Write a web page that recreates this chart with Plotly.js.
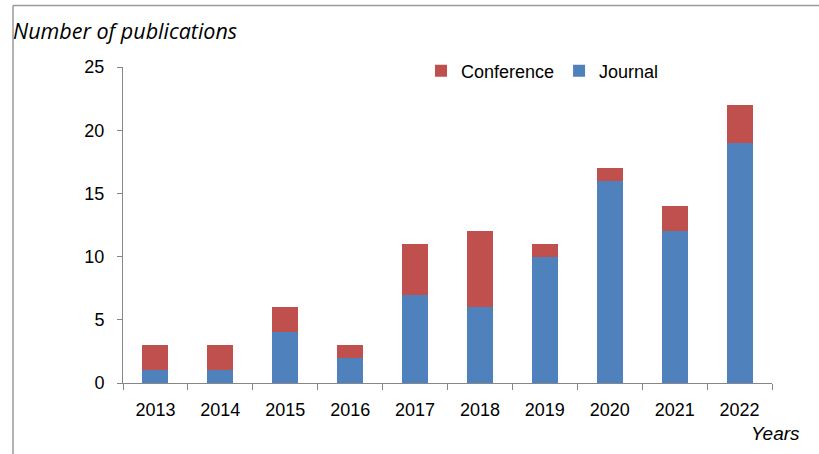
<!DOCTYPE html>
<html>
<head>
<meta charset="utf-8">
<script src="https://cdn.plot.ly/plotly-3.0.1.min.js"></script>
<style>html,body{margin:0;padding:0;background:#fff;}#chart{width:819px;height:454px;}</style>
</head>
<body>
<div id="chart"></div>
<script>
const years = ['2013','2014','2015','2016','2017','2018','2019','2020','2021','2022'];
const journal = [1, 1, 4, 2, 7, 6, 10, 16, 12, 19];
const conference = [2, 2, 2, 1, 4, 6, 1, 1, 2, 3];
const yTicks = [0, 5, 10, 15, 20, 25];

const L = 123, R = 47, T = 67, B = 71, W = 819, H = 454;
const pw = W - L - R, ph = H - T - B;
const px = x => (x - L) / pw;
const py = y => (H - B - y) / ph;

const data = [
  {type: 'bar', name: 'Journal', x: years, y: journal, marker: {color: '#4F81BD'}},
  {type: 'bar', name: 'Conference', x: years, y: conference, marker: {color: '#C0504D'}}
];

const layout = {
  width: W, height: H,
  margin: {l: L, r: R, t: T, b: B, pad: 0},
  barmode: 'stack',
  bargap: 0.6,
  paper_bgcolor: '#fff', plot_bgcolor: '#fff',
  font: {family: 'Liberation Sans, Arial, sans-serif', size: 18, color: '#000'},
  showlegend: true,
  legend: {orientation: 'h', traceorder: 'reversed', x: px(421), y: py(71), xanchor: 'left', yanchor: 'middle',
           font: {size: 18}, bgcolor: 'rgba(0,0,0,0)', itemwidth: 30},
  xaxis: {
    type: 'category', showline: true, linecolor: '#868686', linewidth: 1,
    ticks: 'outside', tickson: 'boundaries', ticklen: 6, tickcolor: '#868686',
    showgrid: false, zeroline: false, tickfont: {size: 18}, ticklabelstandoff: 10
  },
  yaxis: {
    range: [0, 25], tickvals: yTicks, showline: true, linecolor: '#868686', linewidth: 1,
    ticks: 'outside', ticklen: 5, tickcolor: '#868686', showgrid: false, zeroline: false,
    tickfont: {size: 18}, ticklabelstandoff: 9
  },
  annotations: [
    {xref: 'paper', yref: 'paper', x: px(11), y: py(30), xanchor: 'left', yanchor: 'middle',
     text: 'Number of publications', showarrow: false,
     font: {family: 'Open Sans, sans-serif', size: 21.5, color: '#000', style: 'italic'}},
    {xref: 'paper', yref: 'paper', x: px(802), y: py(433), xanchor: 'right', yanchor: 'middle',
     text: 'Years', showarrow: false,
     font: {family: 'Liberation Sans, Arial, sans-serif', size: 19, color: '#000', style: 'italic'}}
  ],
  shapes: [
    {type: 'line', xref: 'paper', yref: 'paper', x0: px(13), x1: px(819), y0: py(5.5), y1: py(5.5),
     line: {color: '#9a9a9a', width: 1.5}},
    {type: 'line', xref: 'paper', yref: 'paper', x0: px(13), x1: px(13), y0: py(5.5), y1: py(454),
     line: {color: '#9a9a9a', width: 1.5}}
  ]
};

Plotly.newPlot('chart', data, layout, {displayModeBar: false, staticPlot: true});
</script>
</body>
</html>
